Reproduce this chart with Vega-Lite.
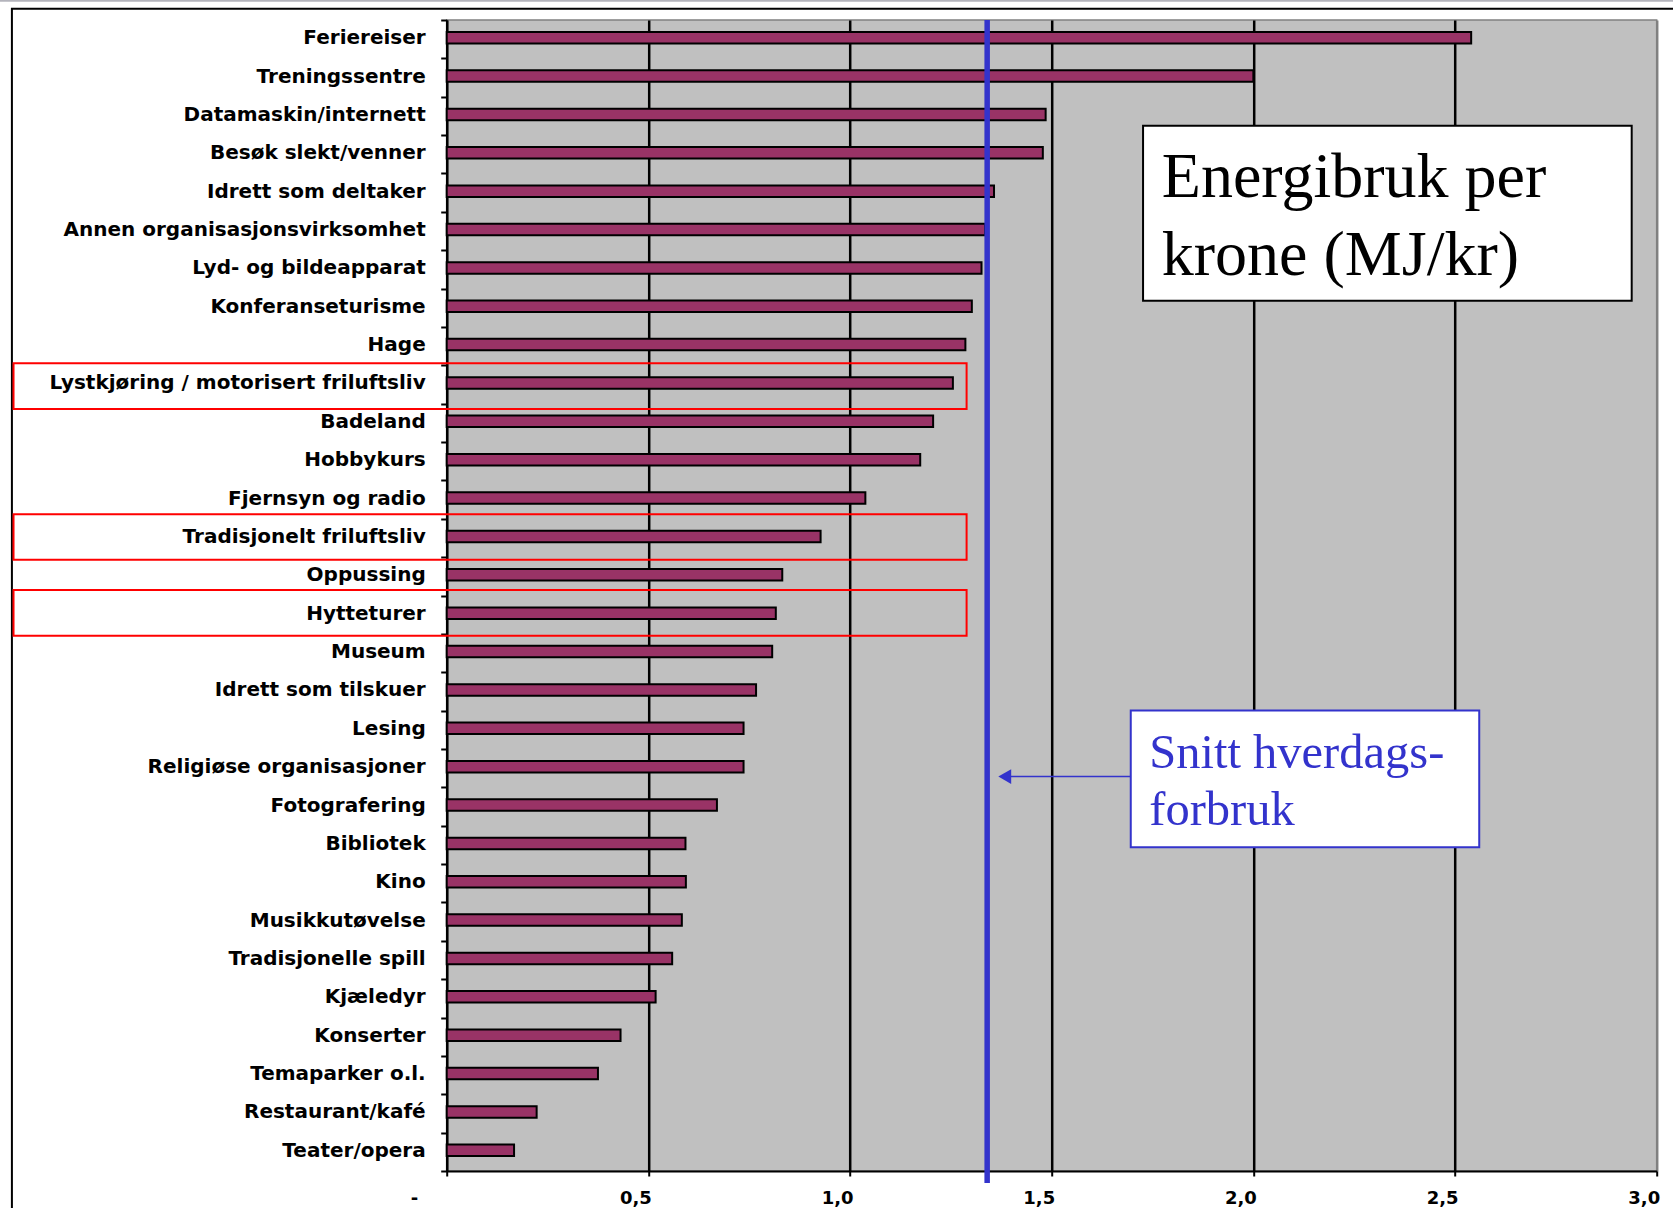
{
  "$schema": "https://vega.github.io/schema/vega-lite/v6.json",
  "width": 1210,
  "height": 1151,
  "autosize": {"type": "none"},
  "padding": {"left": 446.7, "top": 20, "right": 16.3, "bottom": 37},
  "background": "white",
  "config": {"view": {"fill": "#C0C0C0", "stroke": "#808080", "strokeWidth": 1.5}},
  "datasets": {
    "bars": [
      {"cat": "Feriereiser", "value": 2.54},
      {"cat": "Treningssentre", "value": 2.0},
      {"cat": "Datamaskin/internett", "value": 1.485},
      {"cat": "Besøk slekt/venner", "value": 1.478},
      {"cat": "Idrett som deltaker", "value": 1.357},
      {"cat": "Annen organisasjonsvirksomhet", "value": 1.335},
      {"cat": "Lyd- og bildeapparat", "value": 1.326},
      {"cat": "Konferanseturisme", "value": 1.302},
      {"cat": "Hage", "value": 1.286},
      {"cat": "Lystkjøring / motorisert friluftsliv", "value": 1.255},
      {"cat": "Badeland", "value": 1.206},
      {"cat": "Hobbykurs", "value": 1.174},
      {"cat": "Fjernsyn og radio", "value": 1.038},
      {"cat": "Tradisjonelt friluftsliv", "value": 0.927},
      {"cat": "Oppussing", "value": 0.832},
      {"cat": "Hytteturer", "value": 0.816},
      {"cat": "Museum", "value": 0.807},
      {"cat": "Idrett som tilskuer", "value": 0.767},
      {"cat": "Lesing", "value": 0.736},
      {"cat": "Religiøse organisasjoner", "value": 0.736},
      {"cat": "Fotografering", "value": 0.67},
      {"cat": "Bibliotek", "value": 0.592},
      {"cat": "Kino", "value": 0.593},
      {"cat": "Musikkutøvelse", "value": 0.583},
      {"cat": "Tradisjonelle spill", "value": 0.559},
      {"cat": "Kjæledyr", "value": 0.518},
      {"cat": "Konserter", "value": 0.431},
      {"cat": "Temaparker o.l.", "value": 0.375},
      {"cat": "Restaurant/kafé", "value": 0.223},
      {"cat": "Teater/opera", "value": 0.167}
    ],
    "frame": [{"x1": -1.078, "x2": 3.1, "y1": -0.29, "y2": 31}],
    "topline": [{"x1": -1.2, "x2": 3.2, "y": -0.5}],
    "average": [{"x": 1.34, "y1": 0, "y2": 30.31}],
    "highlight": [
      {"cat": "Lystkjøring / motorisert friluftsliv", "x1": -1.074, "x2": 1.289, "y1": 8.947, "y2": 10.138},
      {"cat": "Tradisjonelt friluftsliv", "x1": -1.074, "x2": 1.289, "y1": 12.883, "y2": 14.066},
      {"cat": "Hytteturer", "x1": -1.074, "x2": 1.289, "y1": 14.855, "y2": 16.046}
    ],
    "titlebox": [{"x1": 1.7265, "x2": 2.938, "y1": 2.755, "y2": 7.316}],
    "titletext": [
      {"x": 1.773, "y": 4.613, "text": "Energibruk per"},
      {"x": 1.773, "y": 6.646, "text": "krone (MJ/kr)"}
    ],
    "notebox": [{"x1": 1.696, "x2": 2.56, "y1": 18.0, "y2": 21.56}],
    "notetext": [
      {"x": 1.742, "y": 19.502, "text": "Snitt hverdags-"},
      {"x": 1.742, "y": 20.98, "text": "forbruk"}
    ],
    "arrow": [{"x1": 1.39, "x2": 1.696, "y": 19.72}],
    "arrowhead": [{"x": 1.3836, "y": 19.72}]
  },
  "layer": [
    {
      "data": {"name": "bars"},
      "mark": {"type": "bar", "fill": "#993366", "stroke": "black", "strokeWidth": 2, "height": 11.5, "yOffset": -1.5},
      "encoding": {
        "y": {
          "field": "cat", "type": "nominal", "sort": null,
          "scale": {"paddingInner": 0, "paddingOuter": 0},
          "axis": {
            "title": null, "tickBand": "extent", "tickSize": 6, "tickWidth": 2, "tickColor": "black",
            "domainColor": "black", "domainWidth": 2, "labelPadding": 15.5, "labelLimit": 600,
            "labelFont": "DejaVu Sans", "labelFontWeight": "bold", "labelFontSize": 20, "labelColor": "black",
            "labelOffset": -1.5
          }
        },
        "x": {
          "field": "value", "type": "quantitative",
          "scale": {"domain": [0, 3], "nice": false, "zero": false},
          "axis": {
            "title": null, "values": [0, 0.5, 1, 1.5, 2, 2.5, 3], "grid": true,
            "gridColor": {"condition": {"test": "datum.value === 3", "value": "#808080"}, "value": "black"},
            "gridWidth": 2.5, "domainColor": "black", "domainWidth": 2, "tickColor": "black", "tickWidth": 2, "tickSize": 5,
            "labelExpr": "datum.value === 0 ? '-' : replace(format(datum.value, '.1f'), '.', ',')",
            "labelAlign": "right", "labelFlush": false, "labelOverlap": false, "labelBound": false,
            "labelOffset": {"condition": {"test": "datum.value === 0", "value": -29}, "value": 3},
            "labelPadding": 13, "labelFont": "DejaVu Sans", "labelFontWeight": "bold", "labelFontSize": 18, "labelColor": "black"
          }
        }
      }
    },
    {
      "data": {"name": "frame"},
      "mark": {"type": "rect", "fill": "transparent", "stroke": "black", "strokeWidth": 2, "clip": false},
      "encoding": {
        "x": {"field": "x1", "type": "quantitative"},
        "x2": {"field": "x2"},
        "y": {"field": "y1", "type": "quantitative", "scale": {"domain": [0, 30], "reverse": true, "nice": false, "zero": false}, "axis": null},
        "y2": {"field": "y2"}
      }
    },
    {
      "data": {"name": "topline"},
      "mark": {"type": "rule", "color": "#B4B4BC", "strokeWidth": 2},
      "encoding": {
        "x": {"field": "x1", "type": "quantitative"},
        "x2": {"field": "x2"},
        "y": {"field": "y", "type": "quantitative", "scale": {"domain": [0, 30], "reverse": true, "nice": false, "zero": false}, "axis": null}
      }
    },
    {
      "data": {"name": "average"},
      "mark": {"type": "rule", "color": "#3333CC", "strokeWidth": 5.5, "clip": false},
      "encoding": {
        "x": {"field": "x", "type": "quantitative"},
        "y": {"field": "y1", "type": "quantitative", "scale": {"domain": [0, 30], "reverse": true, "nice": false, "zero": false}, "axis": null},
        "y2": {"field": "y2"}
      }
    },
    {
      "data": {"name": "highlight"},
      "mark": {"type": "rect", "fill": "transparent", "stroke": "#FF0000", "strokeWidth": 2, "clip": false},
      "encoding": {
        "x": {"field": "x1", "type": "quantitative"},
        "x2": {"field": "x2"},
        "y": {"field": "y1", "type": "quantitative", "scale": {"domain": [0, 30], "reverse": true, "nice": false, "zero": false}, "axis": null},
        "y2": {"field": "y2"}
      }
    },
    {
      "data": {"name": "titlebox"},
      "mark": {"type": "rect", "fill": "white", "stroke": "black", "strokeWidth": 2},
      "encoding": {
        "x": {"field": "x1", "type": "quantitative"},
        "x2": {"field": "x2"},
        "y": {"field": "y1", "type": "quantitative", "scale": {"domain": [0, 30], "reverse": true, "nice": false, "zero": false}, "axis": null},
        "y2": {"field": "y2"}
      }
    },
    {
      "data": {"name": "titletext"},
      "mark": {"type": "text", "font": "Liberation Serif", "fontSize": 64, "color": "black", "align": "left", "baseline": "alphabetic"},
      "encoding": {
        "x": {"field": "x", "type": "quantitative"},
        "y": {"field": "y", "type": "quantitative", "scale": {"domain": [0, 30], "reverse": true, "nice": false, "zero": false}, "axis": null},
        "text": {"field": "text"}
      }
    },
    {
      "data": {"name": "notebox"},
      "mark": {"type": "rect", "fill": "white", "stroke": "#3333CC", "strokeWidth": 2},
      "encoding": {
        "x": {"field": "x1", "type": "quantitative"},
        "x2": {"field": "x2"},
        "y": {"field": "y1", "type": "quantitative", "scale": {"domain": [0, 30], "reverse": true, "nice": false, "zero": false}, "axis": null},
        "y2": {"field": "y2"}
      }
    },
    {
      "data": {"name": "notetext"},
      "mark": {"type": "text", "font": "Liberation Serif", "fontSize": 48.5, "color": "#3333CC", "align": "left", "baseline": "alphabetic"},
      "encoding": {
        "x": {"field": "x", "type": "quantitative"},
        "y": {"field": "y", "type": "quantitative", "scale": {"domain": [0, 30], "reverse": true, "nice": false, "zero": false}, "axis": null},
        "text": {"field": "text"}
      }
    },
    {
      "data": {"name": "arrow"},
      "mark": {"type": "rule", "color": "#3333CC", "strokeWidth": 1.5},
      "encoding": {
        "x": {"field": "x1", "type": "quantitative"},
        "x2": {"field": "x2"},
        "y": {"field": "y", "type": "quantitative", "scale": {"domain": [0, 30], "reverse": true, "nice": false, "zero": false}, "axis": null}
      }
    },
    {
      "data": {"name": "arrowhead"},
      "mark": {"type": "point", "shape": "triangle-left", "filled": true, "size": 220, "color": "#3333CC", "opacity": 1},
      "encoding": {
        "x": {"field": "x", "type": "quantitative"},
        "y": {"field": "y", "type": "quantitative", "scale": {"domain": [0, 30], "reverse": true, "nice": false, "zero": false}, "axis": null}
      }
    }
  ],
  "resolve": {"scale": {"y": "independent"}}
}
